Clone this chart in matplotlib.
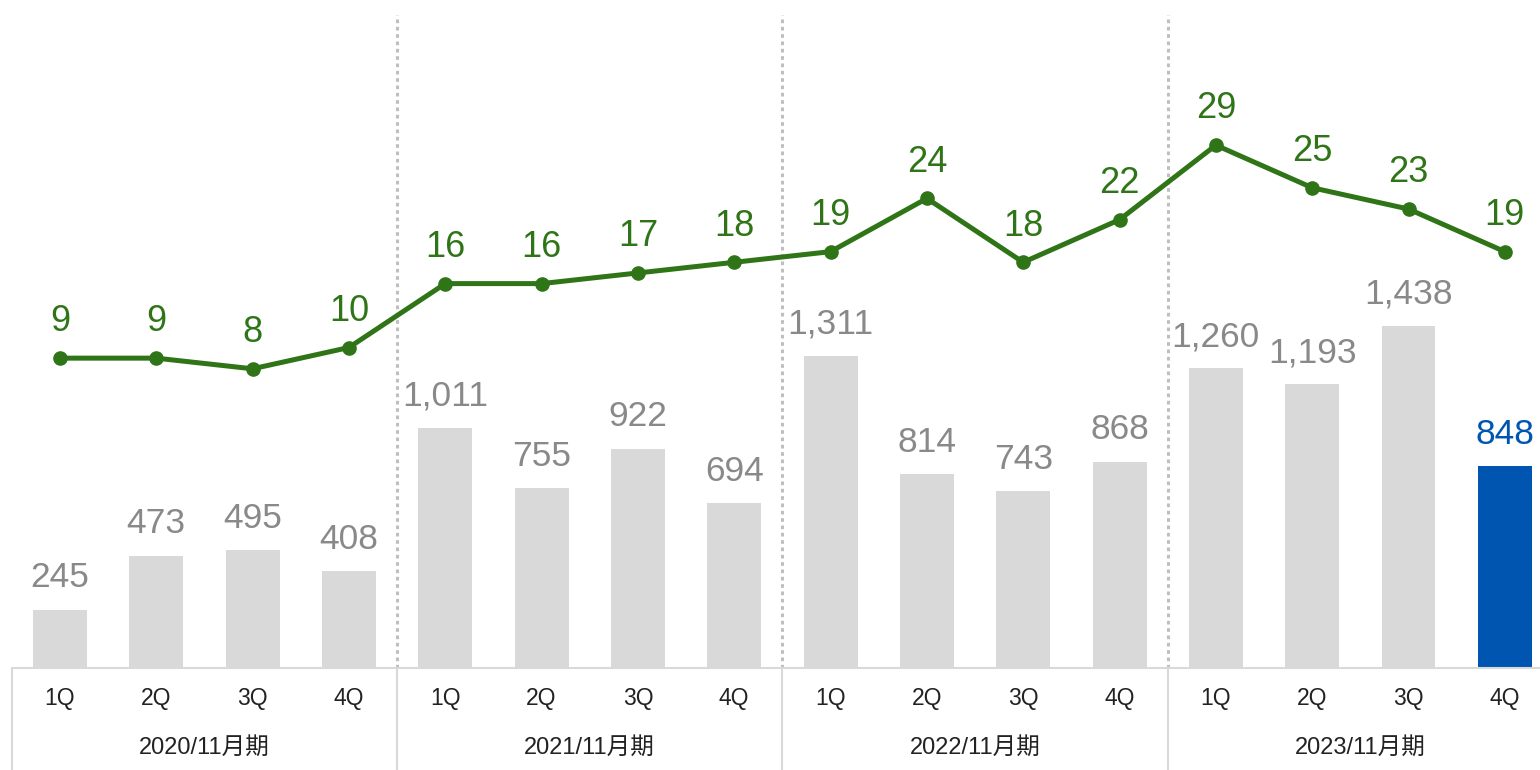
import matplotlib.pyplot as plt
import matplotlib.transforms as mtransforms

plt.rcParams["font.family"] = ["Liberation Sans", "Noto Sans CJK JP", "DejaVu Sans"]

years = ["2020/11月期", "2021/11月期", "2022/11月期", "2023/11月期"]
quarters = ["1Q", "2Q", "3Q", "4Q"]
bar_values = [245, 473, 495, 408, 1011, 755, 922, 694,
              1311, 814, 743, 868, 1260, 1193, 1438, 848]
line_values = [9, 9, 8, 10, 16, 16, 17, 18, 19, 24, 18, 22, 29, 25, 23, 19]

GRAY_BAR = "#D9D9D9"
GRAY_TXT = "#898989"
BLUE = "#0055B0"
GREEN = "#2F7518"

W, H = 1540, 770
fig = plt.figure(figsize=(W / 100, H / 100), dpi=100)
left_px, right_px, base_px, top_px = 11.8, 1553.0, 668.0, 15.0
ax = fig.add_axes([left_px / W, (H - base_px) / H,
                   (right_px - left_px) / W, (base_px - top_px) / H])
ax_h = base_px - top_px

n = len(bar_values)
x = list(range(n))
colors = [GRAY_BAR] * (n - 1) + [BLUE]
ax.bar(x, bar_values, width=0.56, color=colors, zorder=2)
ax.set_xlim(-0.5, n - 0.5)
ax.set_ylim(0, ax_h / 0.2378)

for xi, v, c in zip(x, bar_values, colors):
    tc = BLUE if c == BLUE else GRAY_TXT
    ax.annotate(f"{v:,}", (xi, v), xytext=(0, 11), textcoords="offset points",
                ha="center", va="bottom", fontsize=25.5, color=tc)

ax2 = ax.twinx()
zero_off = 214.0
ppu = 10.65
ax2.set_ylim(-zero_off / ppu, (ax_h - zero_off) / ppu)
ax2.plot(x, line_values, color=GREEN, lw=3.6, marker="o", markersize=9.5,
         zorder=3, clip_on=False)
for xi, v in zip(x, line_values):
    ax2.annotate(f"{v}", (xi, v), xytext=(0, 13.5), textcoords="offset points",
                 ha="center", va="bottom", fontsize=26, color=GREEN)

for a in (ax, ax2):
    for s in a.spines.values():
        s.set_visible(False)
    a.set_yticks([])
ax.set_xticks([])
ax.spines["bottom"].set_visible(True)
ax.spines["bottom"].set_color(GRAY_BAR)
ax.spines["bottom"].set_linewidth(1.5)

for b in (3.5, 7.5, 11.5):
    ax.axvline(b, color="#BFBFBF", lw=2.2, ls=(0, (1.2, 1.2)), zorder=1)

# category axis below the plot
trans = mtransforms.blended_transform_factory(ax.transData, ax.transAxes)
below = -(H - base_px) / ax_h
for b in (-0.5, 3.5, 7.5, 11.5):
    ax.plot([b, b], [0, below], transform=trans, color=GRAY_BAR, lw=1.5,
            clip_on=False)
for xi in x:
    ax.text(xi, -30 / ax_h, quarters[xi % 4], transform=trans, ha="center",
            va="center", fontsize=16.5, color="#222222")
for i, y in enumerate(years):
    ax.text(4 * i + 1.5, -80 / ax_h, y, transform=trans, ha="center",
            va="center", fontsize=17, color="#222222")

fig.savefig("out.png", dpi=100)
